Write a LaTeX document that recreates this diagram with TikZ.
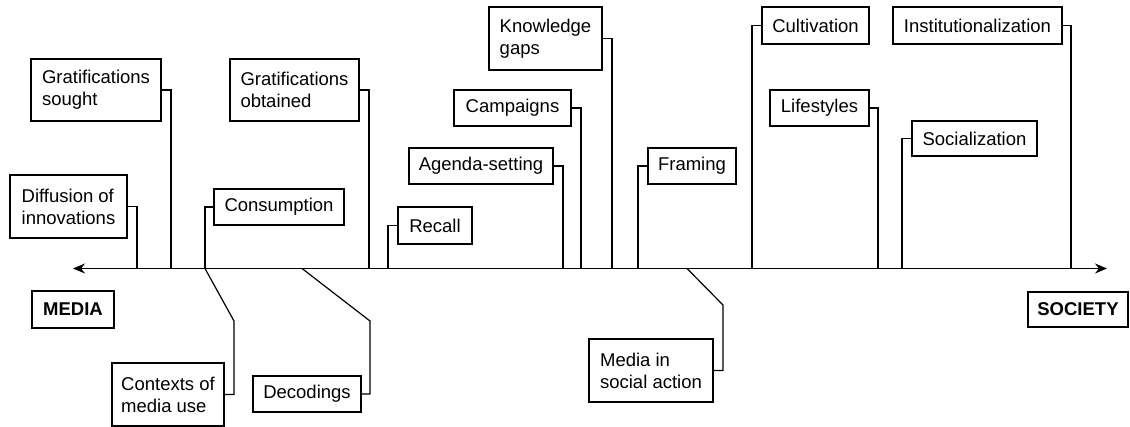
\documentclass[tikz,border=0pt]{standalone}
\usepackage{fontspec}
\setmainfont{Liberation Sans}
\usetikzlibrary{arrows.meta}

\begin{document}
\begin{tikzpicture}[x={1pt},y={-1pt},
  line width=1.2pt,
  box/.style={draw, align=left, inner xsep=4pt, font=\fontsize{18.5}{22}\selectfont},
  endbox/.style={box, font=\fontsize{18.5}{22}\selectfont\bfseries}]
\useasboundingbox (0,0) rectangle (1130,427);

% the axis
\coordinate (axisL) at (73,268.5);
\coordinate (axisR) at (1107,268.5);
\draw [{Stealth[length=12pt,width=10pt]}-{Stealth[length=12pt,width=10pt]}] (axisL) -- (axisR);

\node [endbox, minimum width=82pt, minimum height=37pt] (media) at (73,309.5) {MEDIA};
\node [endbox, minimum width=100pt, minimum height=35pt] (society) at (1078,309.5) {SOCIETY};

% boxes above the axis
\node [box, minimum width=117pt, minimum height=63pt] (diffusion) at (68.5,206.5) {Diffusion of\\innovations};
\node [box, minimum width=130pt, minimum height=62pt] (gsought) at (96,90) {Gratifications\\sought};
\node [box, minimum width=129pt, minimum height=62pt] (gobtained) at (294.5,90) {Gratifications\\obtained};
\node [box, minimum width=130pt, minimum height=36pt] (consumption) at (279,207) {Consumption};
\node [box, minimum width=74pt, minimum height=37pt] (recall) at (435,225.5) {Recall};
\node [box, minimum width=144pt, minimum height=36pt] (agenda) at (481,166) {Agenda-setting};
\node [box, minimum width=117pt, minimum height=36pt] (campaigns) at (512.5,108) {Campaigns};
\node [box, minimum width=113pt, minimum height=63pt] (knowledge) at (545.5,38.5) {Knowledge\\gaps};
\node [box, minimum width=88pt, minimum height=36pt] (framing) at (692,166) {Framing};
\node [box, minimum width=107pt, minimum height=37pt] (cultivation) at (815.5,25.5) {Cultivation};
\node [box, minimum width=99pt, minimum height=36pt] (lifestyles) at (819.5,108) {Lifestyles};
\node [box, minimum width=169pt, minimum height=37pt] (institution) at (977.5,25.5) {Institutionalization};
\node [box, minimum width=125pt, minimum height=35pt] (socialization) at (974.5,138.5) {Socialization};

% boxes below the axis
\node [box, minimum width=112pt, minimum height=63pt] (contexts) at (168,394.5) {Contexts of\\media use};
\node [box, minimum width=108pt, minimum height=36pt] (decodings) at (307,394) {Decodings};
\node [box, minimum width=124pt, minimum height=63pt] (mediasoc) at (651,370.5) {Media in\\social action};

% points on the axis
\coordinate (tDiffusion) at (137,268.5);
\coordinate (tGsought) at (171,268.5);
\coordinate (tConsumption) at (205,268.5);
\coordinate (tDecodings) at (302,268.5);
\coordinate (tGobtained) at (369,268.5);
\coordinate (tRecall) at (388,268.5);
\coordinate (tAgenda) at (563,268.5);
\coordinate (tCampaigns) at (581,268.5);
\coordinate (tKnowledge) at (612,268.5);
\coordinate (tFraming) at (638,268.5);
\coordinate (tMediasoc) at (687,268.5);
\coordinate (tCultivation) at (752,268.5);
\coordinate (tLifestyles) at (878,268.5);
\coordinate (tSocialization) at (902,268.5);
\coordinate (tInstitution) at (1071,268.5);

\coordinate (bContexts) at (234,321);
\coordinate (bDecodings) at (370,321);
\coordinate (bMediasoc) at (723,305);

\draw (diffusion.east) -| (tDiffusion);
\draw (gsought.east) -| (tGsought);
\draw (consumption.west) -| (tConsumption);
\draw (gobtained.east) -| (tGobtained);
\draw (recall.west) -| (tRecall);
\draw (agenda.east) -| (tAgenda);
\draw (campaigns.east) -| (tCampaigns);
\draw (knowledge.east) -| (tKnowledge);
\draw (framing.west) -| (tFraming);
\draw (cultivation.west) -| (tCultivation);
\draw (lifestyles.east) -| (tLifestyles);
\draw (socialization.west) -| (tSocialization);
\draw (institution.east) -| (tInstitution);

\draw (contexts.east) -| (bContexts) -- (tConsumption);
\draw (decodings.east) -| (bDecodings) -- (tDecodings);
\draw (mediasoc.east) -| (bMediasoc) -- (tMediasoc);

\end{tikzpicture}
\end{document}
